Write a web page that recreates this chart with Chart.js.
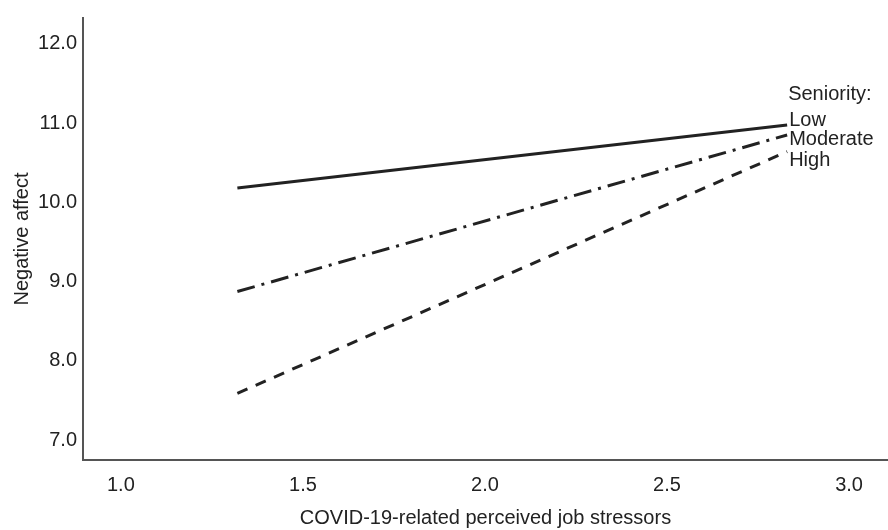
<!DOCTYPE html>
<html>
<head>
<meta charset="utf-8">
<script src="https://cdn.jsdelivr.net/npm/chart.js@4"></script>
<style>
  html, body { margin: 0; padding: 0; background: #fff; }
  #wrap { width: 888px; height: 530px; }
</style>
</head>
<body>
<div id="wrap"><canvas id="c" width="888" height="530"></canvas></div>
<script>
// Data
const stressorX = [1.32, 2.83];
const seriesNames = ['Low', 'Moderate', 'High'];
const lowValues = [10.18, 10.975];
const moderateValues = [8.875, 10.85];
const highValues = [7.59, 10.64];
const xTicks = [1.0, 1.5, 2.0, 2.5, 3.0];
const yTicks = [7.0, 8.0, 9.0, 10.0, 11.0, 12.0];
const legendTitle = 'Seniority:';
const xTitle = 'COVID-19-related perceived job stressors';
const yTitle = 'Negative affect';

const FONT = 'Liberation Sans, Arial, Helvetica, sans-serif';
const INK = '#222';

function pts(vals) { return stressorX.map((x, i) => ({ x: x, y: vals[i] })); }

const labelPlugin = {
  id: 'endLabels',
  afterDatasetsDraw(chart) {
    const ctx = chart.ctx;
    ctx.save();
    ctx.font = '20px ' + FONT;
    ctx.fillStyle = INK;
    ctx.textAlign = 'left';
    ctx.textBaseline = 'alphabetic';
    const offsets = [1, 10, 14];
    let lowBase = null;
    chart.data.datasets.forEach((ds, i) => {
      const meta = chart.getDatasetMeta(i);
      const last = meta.data[meta.data.length - 1];
      const base = last.y + offsets[i];
      if (i === 0) lowBase = base;
      ctx.fillText(ds.label, last.x + 2, base);
    });
    const meta0 = chart.getDatasetMeta(0);
    const last0 = meta0.data[meta0.data.length - 1];
    ctx.fillText(legendTitle, last0.x + 1, lowBase - 26);
    ctx.restore();
  }
};

new Chart(document.getElementById('c'), {
  type: 'line',
  data: {
    datasets: [
      { label: seriesNames[0], data: pts(lowValues), borderColor: INK, borderWidth: 3, borderDash: [], pointRadius: 0, fill: false },
      { label: seriesNames[1], data: pts(moderateValues), borderColor: INK, borderWidth: 3, borderDash: [18, 7, 3, 7], pointRadius: 0, fill: false },
      { label: seriesNames[2], data: pts(highValues), borderColor: INK, borderWidth: 3, borderDash: [11, 9], pointRadius: 0, fill: false }
    ]
  },
  options: {
    responsive: false,
    animation: false,
    layout: { padding: { top: 14, right: 0, bottom: 0, left: 0 } },
    plugins: { legend: { display: false }, tooltip: { enabled: false } },
    scales: {
      x: {
        type: 'linear',
        min: 0.896,
        max: 3.107,
        grid: { display: false, drawTicks: false },
        border: { display: true, color: '#555', width: 2 },
        afterBuildTicks: (s) => { s.ticks = xTicks.map(v => ({ value: v })); },
        afterFit: (s) => { s.height = 70; },
        ticks: {
          padding: 13,
          color: INK,
          font: { family: FONT, size: 20 },
          callback: (v) => Number(v).toFixed(1)
        },
        title: {
          display: true,
          text: xTitle,
          color: INK,
          font: { family: FONT, size: 20 },
          padding: { top: 0, bottom: 0 }
        }
      },
      y: {
        type: 'linear',
        min: 6.75,
        max: 12.325,
        grid: { display: false, drawTicks: false },
        border: { display: true, color: '#555', width: 2 },
        afterBuildTicks: (s) => { s.ticks = yTicks.map(v => ({ value: v })); },
        afterFit: (s) => { s.width = 83; },
        ticks: {
          padding: 6,
          color: INK,
          font: { family: FONT, size: 20 },
          callback: (v) => Number(v).toFixed(1)
        },
        title: {
          display: true,
          text: yTitle,
          color: INK,
          font: { family: FONT, size: 20 },
          padding: { top: 10, bottom: 0 }
        }
      }
    }
  },
  plugins: [labelPlugin]
});
</script>
</body>
</html>
